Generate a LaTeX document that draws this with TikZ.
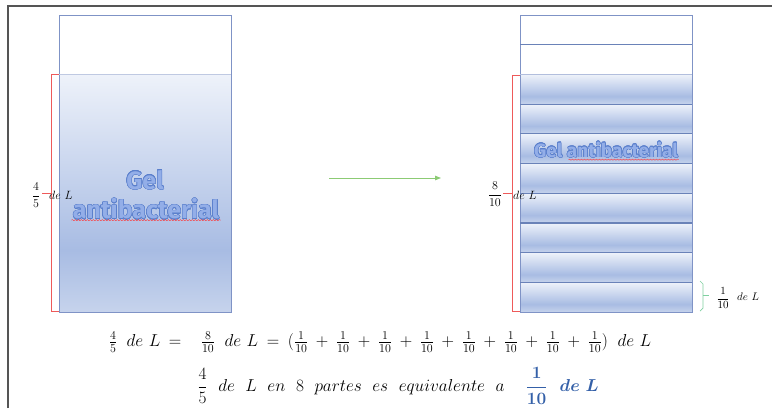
\documentclass[tikz,border=0pt]{standalone}
\usepackage{amsmath}
\usepackage{amssymb}
\usepackage{xcolor}
\usepackage{fontspec}
\usepackage{contour}
\usepackage{tikz}
\usetikzlibrary{arrows.meta,decorations.pathmorphing}

\newfontfamily\gelfont{Fira Sans}
\definecolor{frameGray}{HTML}{555555}
\definecolor{tubeEdge}{HTML}{7F93C6}
\definecolor{bandLine}{HTML}{6A82B8}
\definecolor{gelTop}{HTML}{EEF2FA}
\definecolor{gelMid}{HTML}{A8BCE3}
\definecolor{gelLow}{HTML}{C6D3EC}
\definecolor{braceRed}{HTML}{EE5A5A}
\definecolor{braceGreen}{HTML}{7FD0A0}
\definecolor{arrowGreen}{HTML}{8CCB74}
\definecolor{gelInner}{HTML}{93AEE8}
\definecolor{gelEdge}{HTML}{5A7FCC}
\definecolor{ansBlue}{HTML}{3460A8}
\pgfdeclareverticalshading{gelfill}{100bp}{color(0bp)=(gelLow); color(25bp)=(gelLow); color(38bp)=(gelMid); color(75bp)=(gelTop); color(100bp)=(gelTop)}
\contourlength{0.5pt}
\newcommand{\gelword}[1]{\contour{gelEdge}{\textcolor{gelInner}{#1}}}
\newcommand{\wsp}{\mskip 10mu}
\newcommand{\wspb}{\mskip 11mu}

\begin{document}
\begin{tikzpicture}[x=1pt,y=-1pt,
    tube/.style={draw=tubeEdge, line width=0.8pt},
    bandsep/.style={draw=bandLine, line width=1.2pt},
    redbrace/.style={draw=braceRed, line width=0.7pt},
    greenbrace/.style={draw=braceGreen, line width=0.7pt},
    squiggle/.style={draw=red!80, line width=0.4pt, decorate,
        decoration={snake, amplitude=0.6pt, segment length=3pt}},
    fraclabel/.style={inner sep=1pt, font=\fontsize{13}{15}\selectfont},
    delabel/.style={inner sep=0pt, anchor=west, font=\fontsize{12}{14}\selectfont}]

\useasboundingbox (0,0) rectangle (772,408);
\draw[frameGray, line width=1.5pt] (8,408) -- (8,6) -- (772,6);

% left tube, 4/5 full
\shade[shading=gelfill] (59,74) rectangle (231,312);
\draw[tube] (59,15) rectangle (231,312);
\draw[draw=tubeEdge!50] (59,74) -- (231,74);
\node[font=\gelfont\bfseries\fontsize{25}{27}\selectfont] (gelA) at (145,180) {\gelword{Gel}};
\node[font=\gelfont\bfseries\fontsize{25}{27}\selectfont] (gelB) at (146,209) {\gelword{antibacterial}};
\draw[squiggle] ([shift={(2,-3)}]gelB.south west) -- ([shift={(-2,-3)}]gelB.south east);

% right tube, ten parts
\foreach \k in {2,...,9}
    \shade[shading=gelfill] (520,{15+29.7*\k}) rectangle (692,{15+29.7*(\k+1)});
\draw[tube] (520,15) rectangle (692,312);
\foreach \k in {1,3,4,5,6,7,8,9}
    \draw[bandsep] (520,{15+29.7*\k}) -- (692,{15+29.7*\k});
\draw[draw=tubeEdge!60] (520,74.4) -- (692,74.4);
\node[font=\gelfont\bfseries\fontsize{19}{21}\selectfont] (gelC) at (606,150) {\gelword{Gel antibacterial}};
\draw[squiggle] ([shift={(-113,-2)}]gelC.south east) -- ([shift={(-3,-2)}]gelC.south east);

% arrow
\coordinate (arrS) at (329,178);
\coordinate (arrE) at (441,178);
\draw[arrowGreen, line width=0.9pt, -{Triangle[length=6pt,width=4.5pt]}] (arrS) -- (arrE);

% braces and labels
\draw[redbrace] (59,74) -- (51,74) -- (51,311) -- (59,311);
\draw[redbrace] (42,193) -- (51,193);
\node[fraclabel] (fracA) at (36,195) {$\dfrac{4}{5}$};
\node[delabel] (deA) at (49,195) {$de\ L$};

\draw[redbrace] (520,75) -- (512,75) -- (512,311) -- (520,311);
\draw[redbrace] (503,193) -- (512,193);
\node[fraclabel] (fracB) at (495,194) {$\dfrac{8}{10}$};
\node[delabel] (deB) at (513,195) {$de\ L$};

\draw[greenbrace] (700,281) -- (703,284) -- (703,308) -- (700,311);
\draw[greenbrace] (703,295) -- (709,295);
\node[fraclabel, font=\fontsize{11}{13}\selectfont] (fracC) at (723,298) {$\dfrac{1}{10}$};
\node[delabel, font=\fontsize{11}{13}\selectfont] (deC) at (737,297) {$de\ L$};

% equations
\node[font=\fontsize{18}{21}\selectfont] (eqA) at (380,342)
    {\medmuskip=8mu \thickmuskip=9mu
     $\tfrac{4}{5}\wsp de\ L =\ \ \tfrac{8}{10}\wsp de\ L = (\tfrac{1}{10}+\tfrac{1}{10}+\tfrac{1}{10}+\tfrac{1}{10}+\tfrac{1}{10}+\tfrac{1}{10}+\tfrac{1}{10}+\tfrac{1}{10})\wsp de\ L$};
\node[font=\fontsize{19}{22}\selectfont] (eqB) at (398,386)
    {$\dfrac{4}{5}\wspb de\wspb L\wspb en\wspb 8\wspb partes\wspb es\wspb equivalente\wspb a\wspb\wspb {\color{ansBlue}\boldsymbol{\dfrac{1}{10}\wspb de\ L}}$};
\end{tikzpicture}
\end{document}
